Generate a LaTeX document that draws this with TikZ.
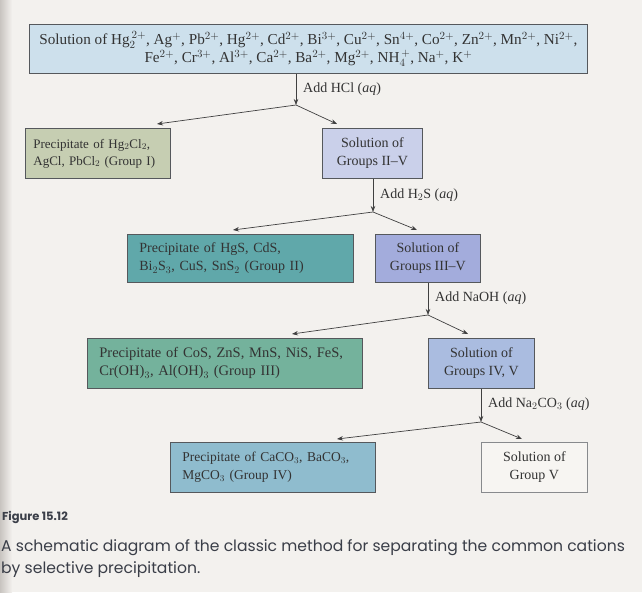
\documentclass[tikz,border=0pt]{standalone}
\usepackage{fontspec}
\setmainfont{Liberation Serif}
\newfontfamily\capfont{Poppins}
\usepackage{tikz}
\usetikzlibrary{arrows.meta, positioning, calc}
\definecolor{pagebg}{RGB}{243, 241, 238}
\definecolor{gutter}{RGB}{200, 196, 192}
\definecolor{edgecolor}{RGB}{85, 88, 92}
\definecolor{topcolor}{RGB}{205, 224, 236}
\definecolor{groupIcolor}{RGB}{198, 206, 178}
\definecolor{solIcolor}{RGB}{202, 208, 234}
\definecolor{groupIIcolor}{RGB}{96, 168, 170}
\definecolor{solIIcolor}{RGB}{163, 172, 220}
\definecolor{groupIIIcolor}{RGB}{116, 178, 156}
\definecolor{solIIIcolor}{RGB}{170, 188, 224}
\definecolor{groupIVcolor}{RGB}{143, 188, 206}
\definecolor{solIVcolor}{RGB}{247, 245, 242}
\definecolor{captioncolor}{RGB}{58, 62, 72}

\tikzset{
  box/.style={draw=edgecolor, line width=0.8pt, anchor=north west, inner xsep=12pt, inner ysep=2pt,
    font=\fontsize{14}{18}\selectfont, text=black!80},
  solbox/.style={box, align=center, inner xsep=4pt},
  precbox/.style={box, align=left},
  arr/.style={-{Stealth[length=6pt, width=4.5pt]}, draw=black!75, line width=0.7pt},
  addlabel/.style={right, font=\fontsize{14}{17}\selectfont, text=black!80, inner sep=2pt}
}

\begin{document}
\begin{tikzpicture}[x=1pt, y=-1pt]
    \useasboundingbox (0,0) rectangle (642,592);
    % page
    \fill[pagebg] (0,0) rectangle (642,592);
    \shade[left color=gutter, right color=pagebg] (0,0) rectangle (12,592);

    % Starting solution
    \node[solbox, fill=topcolor, minimum width=558pt, minimum height=49pt, font=\fontsize{15.2}{18}\selectfont] (top) at (29,24)
      {Solution of Hg$_2^{\,2+}$, Ag$^+$, Pb$^{2+}$, Hg$^{2+}$, Cd$^{2+}$, Bi$^{3+}$, Cu$^{2+}$, Sn$^{4+}$, Co$^{2+}$, Zn$^{2+}$, Mn$^{2+}$, Ni$^{2+}$,\\
       Fe$^{2+}$, Cr$^{3+}$, Al$^{3+}$, Ca$^{2+}$, Ba$^{2+}$, Mg$^{2+}$, NH$_4^{\,+}$, Na$^+$, K$^+$};

    % Step 1 - HCl
    \coordinate (j1) at (296,105);
    \coordinate (t1l) at (157,124);
    \coordinate (t1r) at (337,124);
    \node[precbox, fill=groupIcolor, inner xsep=8pt, text width=129pt, minimum height=50pt, font=\fontsize{13}{17}\selectfont] (g1) at (25,128)
      {Precipitate of Hg$_2$Cl$_2$,\\ AgCl, PbCl$_2$ (Group I)};
    \node[solbox, fill=solIcolor, minimum width=100pt, minimum height=50pt] (s1) at (322,128)
      {Solution of\\ Groups II--V};
    \draw[arr] (top.south -| j1) -- (j1);
    \node[addlabel] (l1) at (301,89) {Add HCl (\textit{aq})};
    \draw[arr] (j1) -- (t1l);
    \draw[arr] (j1) -- (t1r);

    % Step 2 - H2S
    \coordinate (j2) at (373,212);
    \coordinate (t2l) at (233,230);
    \coordinate (t2r) at (417,230);
    \node[precbox, fill=groupIIcolor, text width=202pt, minimum height=48pt] (g2) at (127,234)
      {Precipitate of HgS, CdS,\\ Bi$_2$S$_3$, CuS, SnS$_2$ (Group II)};
    \node[solbox, fill=solIIcolor, minimum width=105pt, minimum height=48pt] (s2) at (375,234)
      {Solution of\\ Groups III--V};
    \draw[arr] (s1.south -| j2) -- (j2);
    \node[addlabel] (l2) at (378,195) {Add H$_2$S (\textit{aq})};
    \draw[arr] (j2) -- (t2l);
    \draw[arr] (j2) -- (t2r);

    % Step 3 - NaOH
    \coordinate (j3) at (428,315);
    \coordinate (t3l) at (292,334);
    \coordinate (t3r) at (468,334);
    \node[precbox, fill=groupIIIcolor, text width=251pt, minimum height=50pt, font=\fontsize{14.5}{18}\selectfont] (g3) at (87,338)
      {Precipitate of CoS, ZnS, MnS, NiS, FeS,\\ Cr(OH)$_3$, Al(OH)$_3$ (Group III)};
    \node[solbox, fill=solIIIcolor, minimum width=106pt, minimum height=50pt] (s3) at (428,338)
      {Solution of\\ Groups IV, V};
    \draw[arr] (s2.south -| j3) -- (j3);
    \node[addlabel] (l3) at (433,298) {Add NaOH (\textit{aq})};
    \draw[arr] (j3) -- (t3l);
    \draw[arr] (j3) -- (t3r);

    % Step 4 - Na2CO3
    \coordinate (j4) at (481,422);
    \coordinate (t4l) at (337,439);
    \coordinate (t4r) at (522,439);
    \node[precbox, fill=groupIVcolor, text width=181pt, minimum height=50pt, font=\fontsize{13.5}{18}\selectfont] (g4) at (170,442)
      {Precipitate of CaCO$_3$, BaCO$_3$,\\ MgCO$_3$ (Group IV)};
    \node[solbox, fill=solIVcolor, draw=edgecolor!70, minimum width=106pt, minimum height=50pt] (s4) at (481,442)
      {Solution of\\ Group V};
    \draw[arr] (s3.south -| j4) -- (j4);
    \node[addlabel] (l4) at (486,404) {Add Na$_2$CO$_3$ (\textit{aq})};
    \draw[arr] (j4) -- (t4l);
    \draw[arr] (j4) -- (t4r);

    % Caption
    \node[right, inner sep=0pt, font=\capfont\bfseries\fontsize{11.5}{13}\selectfont, text=captioncolor] (fig) at (2,517) {Figure 15.12};
    \node[right, inner sep=0pt, font=\capfont\fontsize{15.6}{22}\selectfont, text=captioncolor, align=left] (cap) at (1,559)
      {A schematic diagram of the classic method for separating the common cations\\ by selective precipitation.};
\end{tikzpicture}
\end{document}
